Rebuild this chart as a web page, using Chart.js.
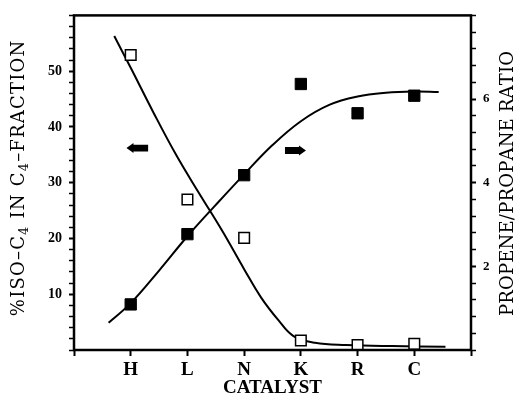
<!DOCTYPE html>
<html>
<head>
<meta charset="utf-8">
<script src="https://cdn.jsdelivr.net/npm/chart.js@4.4.0/dist/chart.umd.min.js"></script>
<style>
  body { margin: 0; background: #fff; }
  canvas { display: block; }
</style>
</head>
<body>
<canvas id="chart" width="517" height="398"></canvas>
<script>
const catalysts = ['H', 'L', 'N', 'K', 'R', 'C'];
const isoC4 = [52.9, 27.0, 20.1, 1.7, 0.9, 1.1];     // open squares, left axis
const ratio = [1.09, 2.77, 4.18, 6.36, 5.66, 6.08];  // filled squares, right axis

// hand drawn fitted curves
const isoCurveX = [0.71, 1.0, 1.4, 1.8, 2.2, 2.6, 3.0, 3.3, 3.6, 3.87, 4.25, 4.8, 5.6, 6.55];
const isoCurveY = [56.3, 50.6, 42.6, 35.0, 28.2, 21.6, 14.5, 9.4, 5.4, 2.5, 1.3, 0.9, 0.7, 0.6];
const ratioCurveX = [0.61, 1.0, 1.5, 2.0, 2.5, 3.0, 3.5, 4.0, 4.5, 5.0, 5.5, 6.0, 6.43];
const ratioCurveY = [0.65, 1.12, 1.9, 2.72, 3.47, 4.2, 4.9, 5.47, 5.86, 6.06, 6.15, 6.18, 6.17];

const leftTickLabels = [10, 20, 30, 40, 50];
const rightTickLabels = [2, 4, 6];

const serif = "'Liberation Serif', 'DejaVu Serif', serif";
const wideSerif = "'DejaVu Serif', serif";

function pts(xs, ys) {
    return xs.map((x, i) => ({ x: x, y: ys[i] }));
}

// text turned 90 degrees, letter spaced, with real subscripts
function drawVertical(ctx, parts, cx, cy, size, spacing) {
    const font = `${size}px ${wideSerif}`;
    const subFont = `${Math.round(size * 0.7)}px ${wideSerif}`;
    ctx.save();
    ctx.translate(cx, cy);
    ctx.rotate(-Math.PI / 2);
    ctx.fillStyle = '#000';
    ctx.textBaseline = 'middle';
    const chars = [];
    parts.forEach(p => {
        for (const ch of p.t) chars.push({ ch: ch, sub: p.sub });
    });
    let total = 0;
    chars.forEach(c => {
        ctx.font = c.sub ? subFont : font;
        c.w = ctx.measureText(c.ch).width + spacing;
        total += c.w;
    });
    let x = -(total - spacing) / 2;
    chars.forEach(c => {
        ctx.font = c.sub ? subFont : font;
        ctx.fillText(c.ch, x, c.sub ? size * 0.3 : 0);
        x += c.w;
    });
    ctx.restore();
}

function drawArrow(ctx, x0, x1, y, left) {
    const head = 7, hh = 5, sh = 3.4;
    ctx.beginPath();
    if (left) {
        ctx.moveTo(x0, y);
        ctx.lineTo(x0 + head, y - hh);
        ctx.lineTo(x0 + head, y - sh);
        ctx.lineTo(x1, y - sh);
        ctx.lineTo(x1, y + sh);
        ctx.lineTo(x0 + head, y + sh);
        ctx.lineTo(x0 + head, y + hh);
    } else {
        ctx.moveTo(x1, y);
        ctx.lineTo(x1 - head, y - hh);
        ctx.lineTo(x1 - head, y - sh);
        ctx.lineTo(x0, y - sh);
        ctx.lineTo(x0, y + sh);
        ctx.lineTo(x1 - head, y + sh);
        ctx.lineTo(x1 - head, y + hh);
    }
    ctx.closePath();
    ctx.fill();
}

const extras = {
    id: 'extras',
    afterDraw(chart) {
        const ctx = chart.ctx;
        const a = chart.chartArea;
        const sx = chart.scales.x, sy = chart.scales.y, sy2 = chart.scales.y2;

        // frame
        ctx.save();
        ctx.strokeStyle = '#000';
        ctx.lineWidth = 2.5;
        ctx.strokeRect(a.left, a.top, a.right - a.left, a.bottom - a.top);

        // arrows pointing to the axis each curve belongs to
        ctx.fillStyle = '#000';
        drawArrow(ctx, sx.getPixelForValue(0.925), sx.getPixelForValue(1.307), sy.getPixelForValue(36.2), true);
        drawArrow(ctx, sx.getPixelForValue(3.72), sx.getPixelForValue(4.09), sy2.getPixelForValue(4.77), false);
        ctx.restore();

        drawVertical(ctx, [
            { t: '%ISO\u2013C' }, { t: '4', sub: true }, { t: ' IN C' }, { t: '4', sub: true }, { t: '\u2013FRACTION' }
        ], 19.5, 178.5, 18, 1.2);
        drawVertical(ctx, [{ t: 'PROPENE/PROPANE RATIO' }], 508, 183.5, 18, 0.2);
    }
};

const tickGrid = {
    display: true,
    drawOnChartArea: false,
    drawTicks: true,
    tickLength: 5,
    tickColor: '#000'
};

new Chart(document.getElementById('chart'), {
    type: 'scatter',
    data: {
        datasets: [
            {
                data: pts(catalysts.map((c, i) => i + 1), ratio),
                yAxisID: 'y2',
                pointStyle: 'rect',
                pointRadius: 8,
                backgroundColor: '#000',
                borderColor: '#000',
                borderWidth: 1
            },
            {
                data: pts(catalysts.map((c, i) => i + 1), isoC4),
                yAxisID: 'y',
                pointStyle: 'rect',
                pointRadius: 7.5,
                backgroundColor: '#fff',
                borderColor: '#000',
                borderWidth: 1.5
            },
            {
                data: pts(isoCurveX, isoCurveY),
                yAxisID: 'y',
                showLine: true,
                pointRadius: 0,
                borderColor: '#000',
                borderWidth: 2,
                tension: 0.4
            },
            {
                data: pts(ratioCurveX, ratioCurveY),
                yAxisID: 'y2',
                showLine: true,
                pointRadius: 0,
                borderColor: '#000',
                borderWidth: 2,
                tension: 0.4
            }
        ]
    },
    options: {
        responsive: false,
        animation: false,
        layout: { padding: { top: 13, left: 0, right: 0, bottom: 0 } },
        plugins: { legend: { display: false }, tooltip: { enabled: false } },
        scales: {
            x: {
                type: 'linear',
                min: 0,
                max: 7,
                border: { display: false },
                grid: Object.assign({}, tickGrid, { tickLength: 6, tickWidth: 2 }),
                ticks: {
                    stepSize: 1,
                    autoSkip: false,
                    maxRotation: 0,
                    padding: 3,
                    color: '#000',
                    font: { family: serif, size: 19, weight: 'bold' },
                    callback: v => catalysts[v - 1] || ''
                },
                title: {
                    display: true,
                    text: 'CATALYST',
                    color: '#000',
                    font: { family: serif, size: 19, weight: 'bold', lineHeight: 1 },
                    padding: 0
                },
                afterFit: s => { s.height = 48; }
            },
            y: {
                position: 'left',
                min: 0,
                max: 60,
                border: { display: false },
                grid: Object.assign({}, tickGrid, {
                    tickWidth: c => (leftTickLabels.includes(c.tick.value) ? 2 : 1.5)
                }),
                ticks: {
                    stepSize: 2,
                    autoSkip: false,
                    padding: 7,
                    color: '#000',
                    font: { family: serif, size: 14, weight: 'bold' },
                    callback: v => (leftTickLabels.includes(v) ? v : '')
                },
                afterFit: s => { s.width = 74; }
            },
            y2: {
                position: 'right',
                min: 0,
                max: 8,
                border: { display: false },
                grid: Object.assign({}, tickGrid, {
                    tickWidth: c => (rightTickLabels.some(t => Math.abs(t - c.tick.value) < 1e-6) ? 2 : 1.5)
                }),
                ticks: {
                    stepSize: 0.4,
                    autoSkip: false,
                    padding: 7,
                    color: '#000',
                    font: { family: serif, size: 13, weight: 'bold' },
                    callback: v => {
                        const t = rightTickLabels.find(r => Math.abs(r - v) < 1e-6);
                        return t === undefined ? '' : t;
                    }
                },
                afterFit: s => { s.width = 46; }
            }
        }
    },
    plugins: [extras]
});
</script>
</body>
</html>
